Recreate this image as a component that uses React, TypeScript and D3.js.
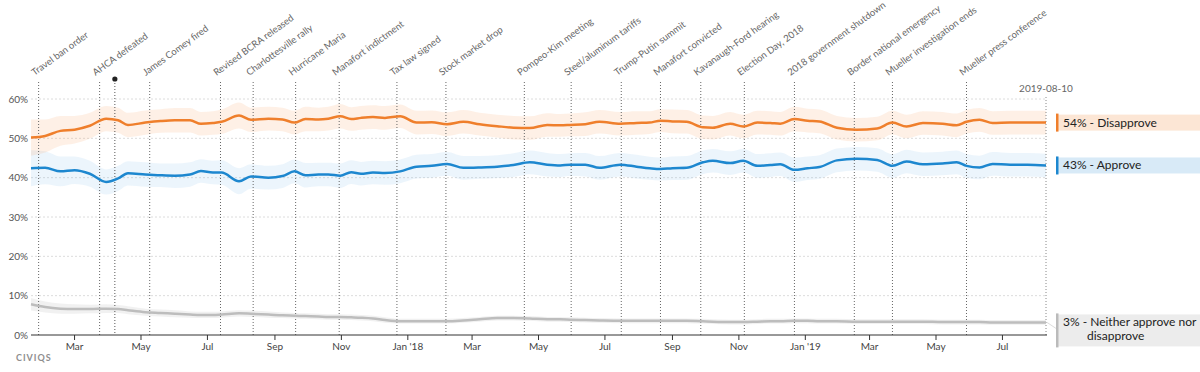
import React, { useEffect, useRef } from 'react';
import * as d3 from 'd3';

const dates = [
  "2017-01-20", "2017-02-02", "2017-02-16", "2017-03-01", "2017-03-15", "2017-03-30",
  "2017-04-10", "2017-04-19", "2017-05-05", "2017-05-19", "2017-06-01", "2017-06-15",
  "2017-06-25", "2017-07-06", "2017-07-14", "2017-07-30", "2017-08-10", "2017-08-26",
  "2017-09-08", "2017-09-19", "2017-09-29", "2017-10-11", "2017-10-20", "2017-10-31",
  "2017-11-10", "2017-11-19", "2017-11-30", "2017-12-11", "2017-12-25", "2018-01-09",
  "2018-01-23", "2018-02-06", "2018-02-21", "2018-03-08", "2018-03-24", "2018-04-08",
  "2018-04-23", "2018-05-09", "2018-05-21", "2018-05-30", "2018-06-13", "2018-06-26",
  "2018-07-15", "2018-07-30", "2018-08-11", "2018-08-21", "2018-09-01", "2018-09-14",
  "2018-09-29", "2018-10-08", "2018-10-24", "2018-11-05", "2018-11-18", "2018-11-30",
  "2018-12-09", "2018-12-22", "2019-01-03", "2019-01-14", "2019-01-30", "2019-02-17",
  "2019-03-08", "2019-03-22", "2019-04-04", "2019-04-19", "2019-05-07", "2019-05-20",
  "2019-05-29", "2019-06-10", "2019-06-22", "2019-07-08", "2019-07-24", "2019-08-10"
];

const disapprove = [
  50.2, 50.6, 51.9, 52.2, 53.2, 55.0, 54.6, 53.4, 54.0, 54.4, 54.6, 54.6,
  53.7, 53.9, 54.2, 55.8, 54.7, 55.0, 54.8, 54.0, 54.9, 54.8, 55.0, 55.6,
  54.9, 55.2, 55.4, 55.2, 55.6, 54.0, 54.1, 53.6, 54.2, 53.6, 53.1, 52.7,
  52.6, 53.4, 53.3, 53.4, 53.6, 54.2, 53.7, 53.9, 54.0, 54.5, 54.3, 54.2,
  52.8, 52.7, 53.7, 53.0, 54.0, 53.9, 53.7, 54.9, 54.5, 54.3, 52.7, 52.2,
  52.5, 54.0, 53.0, 53.9, 53.7, 53.3, 54.2, 54.7, 53.9, 54.0, 54.0, 54.0
];

const approve = [
  42.4, 42.5, 41.6, 41.9, 41.0, 38.9, 39.8, 41.1, 40.8, 40.6, 40.5, 40.8,
  41.7, 41.3, 41.3, 39.1, 40.3, 40.0, 40.4, 41.6, 40.6, 40.8, 40.8, 40.5,
  41.4, 41.0, 41.3, 41.2, 41.6, 42.8, 43.0, 43.5, 42.5, 42.6, 42.8, 43.2,
  43.9, 43.3, 43.1, 43.3, 43.3, 42.5, 43.3, 42.8, 42.4, 42.2, 42.4, 42.5,
  43.9, 44.3, 43.7, 44.3, 43.0, 43.2, 43.4, 42.0, 42.4, 42.7, 44.4, 44.8,
  44.5, 43.0, 44.1, 43.4, 43.6, 43.9, 43.0, 42.6, 43.5, 43.3, 43.3, 43.1
];

const neither = [
  7.8, 7.1, 6.7, 6.6, 6.6, 6.7, 6.6, 6.3, 5.8, 5.6, 5.4, 5.2,
  5.1, 5.1, 5.2, 5.5, 5.4, 5.2, 5.0, 4.9, 4.8, 4.7, 4.6, 4.6,
  4.5, 4.4, 4.2, 3.8, 3.5, 3.5, 3.5, 3.5, 3.7, 4.0, 4.3, 4.3,
  4.2, 4.0, 4.0, 3.9, 3.8, 3.7, 3.6, 3.6, 3.6, 3.6, 3.6, 3.6,
  3.5, 3.4, 3.3, 3.3, 3.4, 3.5, 3.5, 3.6, 3.6, 3.5, 3.5, 3.4,
  3.4, 3.4, 3.4, 3.4, 3.3, 3.3, 3.3, 3.3, 3.2, 3.2, 3.2, 3.2
];

// half-width of the uncertainty bands
const spread = [
  4.6, 4.2, 3.8, 3.5, 3.3, 3.2, 3.2, 3.1, 3.1, 3.0, 3.1, 3.1,
  3.0, 3.0, 3.1, 3.3, 3.1, 3.0, 3.0, 3.0, 3.1, 3.0, 3.0, 3.1,
  3.0, 3.0, 3.0, 3.0, 3.0, 3.0, 3.0, 3.0, 3.0, 2.9, 2.9, 3.0,
  3.0, 3.0, 2.9, 2.9, 3.0, 3.0, 3.0, 3.0, 2.9, 2.9, 3.0, 3.0,
  3.0, 3.0, 3.0, 3.0, 3.0, 3.0, 3.0, 3.1, 3.0, 3.0, 3.0, 3.0,
  3.0, 3.0, 3.0, 3.0, 3.0, 3.0, 3.0, 3.0, 3.0, 3.0, 3.0, 3.0
];

const neitherSpread = [
  1.6, 1.4, 1.3, 1.2, 1.1, 1.1, 1.0, 1.0, 0.9, 0.9, 0.9, 0.8,
  0.8, 0.8, 0.8, 0.8, 0.8, 0.8, 0.7, 0.7, 0.7, 0.7, 0.7, 0.7,
  0.7, 0.7, 0.7, 0.7, 0.6, 0.6, 0.6, 0.6, 0.6, 0.6, 0.6, 0.6,
  0.6, 0.6, 0.6, 0.6, 0.6, 0.6, 0.6, 0.6, 0.6, 0.6, 0.6, 0.6,
  0.6, 0.6, 0.6, 0.6, 0.6, 0.6, 0.6, 0.6, 0.6, 0.6, 0.6, 0.6,
  0.6, 0.6, 0.6, 0.6, 0.6, 0.6, 0.6, 0.6, 0.6, 0.6, 0.6, 0.6
];

const eventDates = [
  "2017-01-27", "2017-03-24", "2017-05-09", "2017-07-13", "2017-08-12", "2017-09-20",
  "2017-10-30", "2017-12-22", "2018-02-05", "2018-04-18", "2018-05-31", "2018-07-16",
  "2018-08-21", "2018-09-27", "2018-11-06", "2018-12-22", "2019-02-15", "2019-03-22",
  "2019-05-29"
];

const eventLabels = [
  "Travel ban order", "AHCA defeated", "James Comey fired", "Revised BCRA released",
  "Charlottesville rally", "Hurricane Maria", "Manafort indictment", "Tax law signed",
  "Stock market drop", "Pompeo-Kim meeting", "Steel/aluminum tariffs", "Trump-Putin summit",
  "Manafort convicted", "Kavanaugh-Ford hearing", "Election Day, 2018",
  "2018 government shutdown", "Border national emergency", "Mueller investigation ends",
  "Mueller press conference"
];

const markerDate = "2017-04-07";
const lastDate = "2019-08-10";

const yTicks = [0, 10, 20, 30, 40, 50, 60];

const xTickDates = [
  "2017-03-01", "2017-05-01", "2017-07-01", "2017-09-01", "2017-11-01", "2018-01-01",
  "2018-03-01", "2018-05-01", "2018-07-01", "2018-09-01", "2018-11-01", "2019-01-01",
  "2019-03-01", "2019-05-01", "2019-07-01"
];
const xTickLabels = [
  "Mar", "May", "Jul", "Sep", "Nov", "Jan '18", "Mar", "May", "Jul", "Sep", "Nov",
  "Jan '19", "Mar", "May", "Jul"
];

const FONT = "Lato, 'Open Sans', sans-serif";

const ApprovalChart: React.FC = () => {
  const ref = useRef<SVGSVGElement | null>(null);

  useEffect(() => {
    if (!ref.current) return;
    const parse = d3.timeParse("%Y-%m-%d");
    const svg = d3.select(ref.current);
    svg.selectAll("*").remove();

    const x = d3.scaleTime()
      .domain([parse("2017-01-20") as Date, parse(lastDate) as Date])
      .range([31, 1046]);
    const y = d3.scaleLinear().domain([0, 60]).range([335, 99]);

    const rows = dates.map((d, i) => ({
      date: parse(d) as Date,
      dis: disapprove[i],
      app: approve[i],
      nei: neither[i],
      s: spread[i],
      ns: neitherSpread[i],
    }));

    // gridlines
    svg.append("g")
      .selectAll("line")
      .data(yTicks.filter(t => t > 0))
      .enter().append("line")
      .attr("x1", 31).attr("x2", 1046)
      .attr("y1", d => y(d)).attr("y2", d => y(d))
      .attr("stroke", "#dcdcdc")
      .attr("stroke-dasharray", "2,2");

    svg.append("g")
      .selectAll("text")
      .data(yTicks)
      .enter().append("text")
      .attr("x", 28)
      .attr("y", d => y(d))
      .attr("dy", "0.35em")
      .attr("text-anchor", "end")
      .attr("font-family", FONT)
      .attr("font-size", 10)
      .attr("fill", "#555")
      .text(d => `${d}%`);

    // bands
    const band = (lo: (r: any) => number, hi: (r: any) => number) =>
      d3.area<any>()
        .x(r => x(r.date))
        .y0(r => y(lo(r)))
        .y1(r => y(hi(r)))
        .curve(d3.curveMonotoneX);

    svg.append("path").datum(rows)
      .attr("d", band(r => r.nei - r.ns, r => r.nei + r.ns))
      .attr("fill", "#cfcfcf").attr("fill-opacity", 0.3);
    svg.append("path").datum(rows)
      .attr("d", band(r => r.app - r.s, r => r.app + r.s))
      .attr("fill", "#7dbbe8").attr("fill-opacity", 0.15);
    svg.append("path").datum(rows)
      .attr("d", band(r => r.dis - r.s, r => r.dis + r.s))
      .attr("fill", "#f8ab74").attr("fill-opacity", 0.18);

    // event lines
    const evDates = eventDates.map(d => parse(d) as Date);
    svg.append("g")
      .selectAll("line")
      .data(evDates)
      .enter().append("line")
      .attr("x1", d => x(d)).attr("x2", d => x(d))
      .attr("y1", 82).attr("y2", 335)
      .attr("stroke", "#666")
      .attr("stroke-dasharray", "1,2");

    svg.append("g")
      .selectAll("text")
      .data(evDates)
      .enter().append("text")
      .attr("transform", d => `translate(${x(d) - 4},76) rotate(-36)`)
      .attr("font-family", FONT)
      .attr("font-size", 9.5)
      .attr("fill", "#666")
      .text((d, i) => eventLabels[i]);

    // marker
    const md = parse(markerDate) as Date;
    svg.append("line")
      .attr("x1", x(md)).attr("x2", x(md))
      .attr("y1", 80).attr("y2", 335)
      .attr("stroke", "#555")
      .attr("stroke-dasharray", "1,2");
    svg.append("circle")
      .attr("cx", x(md)).attr("cy", 79).attr("r", 2.6)
      .attr("fill", "#222");

    // last date line
    const ld = parse(lastDate) as Date;
    svg.append("line")
      .attr("x1", x(ld)).attr("x2", x(ld))
      .attr("y1", 97).attr("y2", 335)
      .attr("stroke", "#888")
      .attr("stroke-dasharray", "1,2");
    svg.append("text")
      .attr("x", x(ld)).attr("y", 92)
      .attr("text-anchor", "middle")
      .attr("font-family", FONT)
      .attr("font-size", 10)
      .attr("fill", "#666")
      .text(lastDate);

    // lines
    const line = (acc: (r: any) => number) =>
      d3.line<any>().x(r => x(r.date)).y(r => y(acc(r))).curve(d3.curveMonotoneX);

    svg.append("path").datum(rows)
      .attr("d", line(r => r.nei))
      .attr("fill", "none").attr("stroke", "#bdbdbd").attr("stroke-width", 2.5);
    svg.append("path").datum(rows)
      .attr("d", line(r => r.app))
      .attr("fill", "none").attr("stroke", "#1d87cf").attr("stroke-width", 2.5);
    svg.append("path").datum(rows)
      .attr("d", line(r => r.dis))
      .attr("fill", "none").attr("stroke", "#ef7f2c").attr("stroke-width", 2.5);

    // x axis
    const xAxis = svg.append("g");
    xAxis.append("line")
      .attr("x1", 31).attr("x2", 1047)
      .attr("y1", 335).attr("y2", 335)
      .attr("stroke", "#333");
    const tickDates = xTickDates.map(d => parse(d) as Date);
    xAxis.selectAll(".tick")
      .data(tickDates)
      .enter().append("line")
      .attr("x1", d => x(d)).attr("x2", d => x(d))
      .attr("y1", 335).attr("y2", 340)
      .attr("stroke", "#333");
    xAxis.selectAll(".lbl")
      .data(tickDates)
      .enter().append("text")
      .attr("x", d => x(d))
      .attr("y", 350)
      .attr("text-anchor", "middle")
      .attr("font-family", FONT)
      .attr("font-size", 10)
      .attr("fill", "#444")
      .text((d, i) => xTickLabels[i]);

    // end labels
    const last = rows[rows.length - 1];
    const endLabel = (bg: string, bar: string, lines: string[], top: number, h: number) => {
      const g = svg.append("g");
      g.append("rect")
        .attr("x", 1057).attr("y", top)
        .attr("width", 143).attr("height", h)
        .attr("fill", bg);
      g.append("rect")
        .attr("x", 1056).attr("y", top - 1)
        .attr("width", 2.5).attr("height", h + 2)
        .attr("fill", bar);
      lines.forEach((t, i) => {
        g.append("text")
          .attr("x", i === 0 ? 1063 : 1087)
          .attr("y", top + 12 + i * 14)
          .attr("font-family", FONT)
          .attr("font-size", 12)
          .attr("fill", "#222")
          .text(t);
      });
    };
    const yd = y(last.dis);
    const ya = y(last.app);
    const yn = y(last.nei);
    endLabel("#fce6d5", "#ef7f2c", [`${Math.round(last.dis)}% - Disapprove`], yd - 8, 16);
    endLabel("#d8eaf7", "#1d87cf", [`${Math.round(last.app)}% - Approve`], ya - 8, 16);
    svg.append("line")
      .attr("x1", 1047).attr("x2", 1056)
      .attr("y1", yn).attr("y2", yn + 6)
      .attr("stroke", "#ddd");
    endLabel("#ececec", "#bbbbbb", [`${Math.round(last.nei)}% - Neither approve nor`, "disapprove"], yn - 8, 32);

    // logo
    svg.append("text")
      .attr("x", 16).attr("y", 361)
      .attr("font-family", FONT)
      .attr("font-size", 9)
      .attr("font-weight", 700)
      .attr("letter-spacing", 1)
      .attr("fill", "#8e8e8e")
      .text("CIVIQS");
  }, []);

  return (
    <svg
      ref={ref}
      width={1200}
      height={372}
      style={{ position: 'absolute', left: 0, top: 0, background: '#fff' }}
    />
  );
};

export default function App() {
  return <ApprovalChart />;
}
